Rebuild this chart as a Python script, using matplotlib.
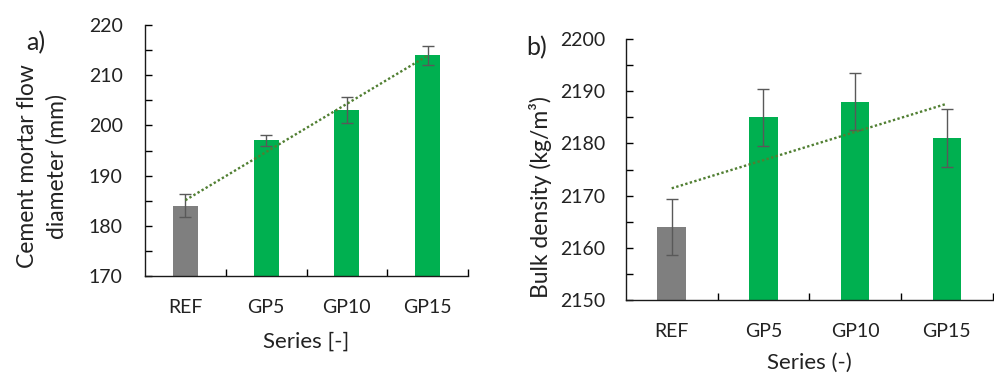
import matplotlib.pyplot as plt
from matplotlib import rcParams
from matplotlib.ticker import MultipleLocator, FixedLocator
import numpy as np

series = ['REF', 'GP5', 'GP10', 'GP15']

flow = [184, 197, 203, 214]
flow_err = [2.3, 1.1, 2.6, 1.9]

density = [2164, 2185, 2188, 2181]
density_err = [5.4, 5.5, 5.4, 5.5]

bar_colors = ['#7f7f7f', '#00b050', '#00b050', '#00b050']

rcParams['font.family'] = ['Lato', 'DejaVu Sans']
text_color = '#222222'


def panel(ax, values, errors, ylim, ylabel_pad):
    x = np.arange(len(series))
    ax.bar(x, values, width=0.31, color=bar_colors, zorder=2)
    ax.errorbar(x, values, yerr=errors, fmt='none', ecolor='#595959',
                elinewidth=1.0, capsize=4.5, capthick=1.0, zorder=3)

    # linear trendline
    k, b = np.polyfit(x, values, 1)
    ax.plot(x, k * x + b, color='#507f32', linestyle=(0, (1, 1)),
            linewidth=1.7, zorder=4)

    ax.set_xlim(-0.5, 3.5)
    ax.set_ylim(*ylim)
    ax.set_xticks(x)
    ax.set_xticklabels(series)
    ax.xaxis.set_minor_locator(FixedLocator([0.5, 1.5, 2.5, 3.5]))
    ax.yaxis.set_major_locator(MultipleLocator(10))
    ax.yaxis.set_minor_locator(MultipleLocator(5))

    ax.tick_params(axis='x', which='major', length=0, pad=16.5,
                   labelsize=14, labelcolor=text_color)
    ax.tick_params(axis='x', which='minor', direction='in', length=5, width=1.0)
    ax.tick_params(axis='y', which='both', direction='in', length=5, width=1.0,
                   pad=ylabel_pad, labelsize=14, labelcolor=text_color)

    for s in ['top', 'right']:
        ax.spines[s].set_visible(False)
    for s in ['left', 'bottom']:
        ax.spines[s].set_linewidth(1.0)
        ax.spines[s].set_color('#1a1a1a')


fig = plt.figure(figsize=(9.95, 3.73), dpi=100)

ax1 = fig.add_axes([0.1457, 0.260, 0.3247, 0.673])
panel(ax1, flow, flow_err, (170, 220), 16)
ax1.set_xlabel('Series [-]', fontsize=16, color=text_color, labelpad=11)

ax2 = fig.add_axes([0.629, 0.1957, 0.3687, 0.6997])
panel(ax2, density, density_err, (2150, 2200), 15)
ax2.set_xlabel('Series (-)', fontsize=16, color=text_color, labelpad=9)

fig.text(42 / 995, 1 - 166 / 373, 'Cement mortar flow\ndiameter (mm)',
         rotation=90, ha='center', va='center', multialignment='center',
         fontsize=16.5, color=text_color, linespacing=1.45)
fig.text(540 / 995, 1 - 197 / 373, 'Bulk density (kg/m³)',
         rotation=90, ha='center', va='center', fontsize=16.5, color=text_color)

fig.text(36 / 995, 1 - 43 / 373, 'a)', ha='center', va='center',
         fontsize=18, color=text_color)
fig.text(537 / 995, 1 - 48 / 373, 'b)', ha='center', va='center',
         fontsize=18, color=text_color)

fig.savefig('out.png', dpi=100)
